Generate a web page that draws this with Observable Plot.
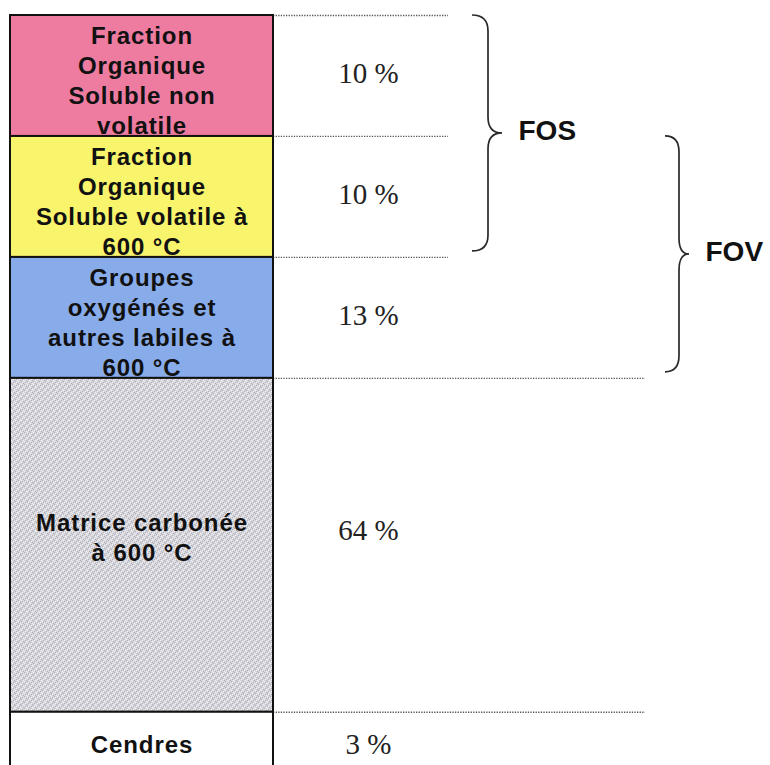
<!DOCTYPE html>
<html>
<head>
<meta charset="utf-8">
<script src="https://cdn.jsdelivr.net/npm/d3@7"></script>
<script src="https://cdn.jsdelivr.net/npm/@observablehq/plot@0.6"></script>
<style>
  html, body { margin: 0; padding: 0; background: #fff; }
  #chart { width: 770px; height: 765px; overflow: hidden; }
</style>
</head>
<body>
<div id="chart"></div>
<script>
// ---- Data ----
const labels = [
  "Fraction\nOrganique\nSoluble non\nvolatile",
  "Fraction\nOrganique\nSoluble volatile à\n600 °C",
  "Groupes\noxygénés et\nautres labiles à\n600 °C",
  "Matrice carbonée\nà 600 °C",
  "Cendres"
];
const percents = [10, 10, 13, 64, 3];
// schematic drawn heights (the figure is not drawn to scale)
const drawnHeights = [10, 10, 10, 27.6, 4.6];
const colors = ["#ee7ba0", "#f8f46c", "#88acea", "url(#stipple)", "#ffffff"];
const groupNames = ["FOS", "FOV"];
const groupFrom = [0, 1];   // first segment index of each group
const groupTo = [1, 2];     // last segment index of each group

// ---- Build table ----
let acc = 0;
const rows = labels.map((label, i) => {
  const y1 = acc; acc += drawnHeights[i];
  return { i, label, pct: percents[i], color: colors[i], y1, y2: acc, mid: (y1 + acc) / 2 };
});
const boundaries = rows.map((r, i) => ({ v: r.y1, end: i <= 2 ? 448 : 645 }));
const braces = groupNames.map((name, i) => ({
  name,
  from: rows[groupFrom[i]].y1,
  to: rows[groupTo[i]].y2 - 0.5,
  x0: i === 0 ? 472 : 665,
  xm: i === 0 ? 488 : 679,
  xt: i === 0 ? 502 : 689
}));

const barLeft = 10, barRight = 273, pctX = 368;

function braceMark(index, scales, values, dimensions, context) {
  const sx = scales.x, sy = scales.y;
  const g = d3.create("svg:g");
  for (const b of braces) {
    const x0 = sx(b.x0), xm = sx(b.xm), xt = sx(b.xt);
    const y0 = sy(b.from), y1 = sy(b.to), ym = (y0 + y1) / 2;
    const r = 16;
    const p = `M${x0},${y0} Q${xm},${y0} ${xm},${y0 + r} L${xm},${ym - r} Q${xm},${ym} ${xt},${ym} Q${xm},${ym} ${xm},${ym + r} L${xm},${y1 - r} Q${xm},${y1} ${x0},${y1}`;
    g.append("path").attr("d", p).attr("fill", "none").attr("stroke", "#2a2a2a").attr("stroke-width", 1.7);
  }
  return g.node();
}

const innerFont = { fontSize: 24, fontWeight: "bold", fontFamily: "Liberation Sans, Arial, sans-serif", lineHeight: 1.25, fill: "#111", className: "inner" };
const pctFont = { fontSize: 29, fontFamily: "Liberation Serif, Times New Roman, serif", fill: "#222" };

const plot = Plot.plot({
  width: 770,
  height: 765,
  margin: 0,
  x: { domain: [0, 770], range: [0, 770], axis: null },
  y: { domain: [0, 62], range: [15, 765], axis: null },
  color: { type: "identity" },
  marks: [
    Plot.ruleY(boundaries, { y: "v", x1: barRight, x2: "end", stroke: "#555", strokeWidth: 1.3, strokeDasharray: "1.3,1.3" }),
    Plot.rect(rows, { x1: barLeft, x2: barRight, y1: "y1", y2: "y2", fill: "color", stroke: "#111", strokeWidth: 2 }),
    Plot.text(rows.filter(d => d.i !== 3), { x: (barLeft + barRight) / 2, y: "mid", text: "label", dy: 3, ...innerFont }),
    Plot.text(rows.filter(d => d.i === 3), { x: (barLeft + barRight) / 2, y: "mid", text: "label", dy: -9, ...innerFont }),
    Plot.text(rows.filter(d => d.i < 3), { x: pctX, y: "mid", text: d => `${d.pct} %`, dy: -2, ...pctFont }),
    Plot.text(rows.filter(d => d.i === 3), { x: pctX, y: "mid", text: d => `${d.pct} %`, dy: -15, ...pctFont }),
    Plot.text(rows.filter(d => d.i === 4), { x: pctX, y: "mid", text: d => `${d.pct} %`, dy: 5, ...pctFont }),
    braceMark,
    Plot.text(braces, { x: d => d.xt + 16, y: d => (d.from + d.to) / 2, text: "name", textAnchor: "start", fontSize: 28, fontWeight: "bold", fontFamily: "Liberation Sans, Arial, sans-serif", fill: "#111", dy: -2 })
  ]
});

// stipple pattern for the carbon matrix
const svg = d3.select(plot);
const defs = svg.insert("defs", ":first-child");
const pat = defs.append("pattern").attr("id", "stipple").attr("patternUnits", "userSpaceOnUse").attr("width", 6).attr("height", 6);
pat.append("rect").attr("width", 6).attr("height", 6).attr("fill", "#d6d6dc");
const dark = [[0,0],[3,3],[1,4],[4,1],[2,2],[5,5]];
const light = [[0,3],[3,0],[1,1],[4,4],[2,5],[5,2]];
for (const [x, y] of dark) pat.append("rect").attr("x", x).attr("y", y).attr("width", 1).attr("height", 1).attr("fill", "#aeaeb6");
for (const [x, y] of light) pat.append("rect").attr("x", x).attr("y", y).attr("width", 1).attr("height", 1).attr("fill", "#f0f0f3");
svg.selectAll(".inner text").attr("letter-spacing", "0.9px");

document.getElementById("chart").appendChild(plot);
</script>
</body>
</html>
